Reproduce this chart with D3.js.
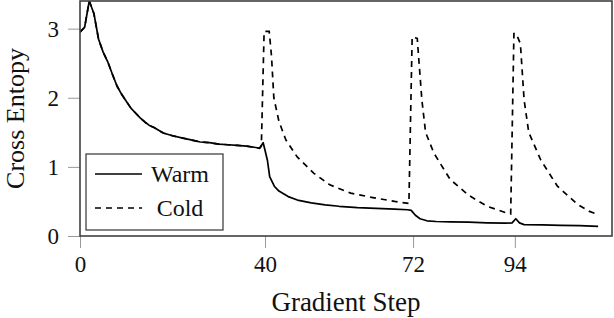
<!DOCTYPE html>
<html>
<head>
<meta charset="utf-8">
<script src="https://cdn.jsdelivr.net/npm/d3@7/dist/d3.min.js"></script>
<style>
  body { margin: 0; background: #fff; }
  text { font-family: "Liberation Serif", "Times New Roman", "DejaVu Serif", serif; fill: #111; }
</style>
</head>
<body>
<script>
// values
const warmSteps = [0, 1, 2, 3, 4, 5, 6, 7, 8, 9, 10, 11, 12, 13, 14, 15, 16, 18, 20, 22, 24, 26, 28, 30, 32, 34, 36, 38, 38.8, 39.6, 40.5, 41, 42, 43, 45, 47, 50, 53, 56, 60, 64, 68, 70.8, 71.6, 72.5, 73.5, 75, 77, 80, 84, 88, 92, 93.4, 94.2, 95, 96, 100, 104, 108, 112];
const warmLoss = [2.95, 3.02, 3.40, 3.22, 2.85, 2.66, 2.52, 2.34, 2.17, 2.05, 1.95, 1.85, 1.78, 1.71, 1.65, 1.60, 1.57, 1.49, 1.45, 1.42, 1.39, 1.36, 1.35, 1.33, 1.32, 1.31, 1.30, 1.28, 1.27, 1.35, 1.10, 0.86, 0.72, 0.65, 0.57, 0.52, 0.48, 0.45, 0.43, 0.41, 0.40, 0.39, 0.38, 0.37, 0.30, 0.25, 0.22, 0.21, 0.205, 0.20, 0.19, 0.185, 0.19, 0.25, 0.19, 0.165, 0.16, 0.155, 0.15, 0.14];

const coldSteps = [0, 1, 2, 3, 4, 5, 6, 7, 8, 9, 10, 11, 12, 13, 14, 15, 16, 18, 20, 22, 24, 26, 28, 30, 32, 34, 36, 38, 38.8, 39.2, 39.8, 40.9, 41.4, 41.9, 43, 44.5, 47, 50.5, 54, 58.5, 63, 68, 71.1, 71.8, 72.9, 73.3, 73.9, 74.7, 76.5, 80, 84, 88, 92.4, 93.1, 93.8, 94.3, 95.2, 96, 97, 99.6, 103.2, 107.5, 110, 112];
const coldLoss = [2.95, 3.02, 3.40, 3.22, 2.85, 2.66, 2.52, 2.34, 2.17, 2.05, 1.95, 1.85, 1.78, 1.71, 1.65, 1.60, 1.57, 1.49, 1.45, 1.42, 1.39, 1.36, 1.35, 1.33, 1.32, 1.31, 1.30, 1.28, 1.27, 1.30, 2.96, 2.96, 2.60, 2.00, 1.66, 1.39, 1.14, 0.91, 0.74, 0.62, 0.56, 0.50, 0.47, 2.88, 2.86, 2.50, 1.97, 1.50, 1.20, 0.82, 0.59, 0.43, 0.33, 0.32, 2.93, 2.93, 2.78, 1.97, 1.50, 1.10, 0.72, 0.46, 0.36, 0.31];

const xTicks = [0, 40, 72, 94];
const yTicks = [0, 1, 2, 3];
const seriesNames = ["Warm", "Cold"];

const serif = '"Liberation Serif", "Times New Roman", "DejaVu Serif", serif';

const W = 614, H = 318;
const margin = { top: 1, right: 2, bottom: 82, left: 80 };
const width = W - margin.left - margin.right;
const height = H - margin.top - margin.bottom;

const svg = d3.select("body").append("svg")
  .attr("width", W)
  .attr("height", H);

const g = svg.append("g")
  .attr("transform", `translate(${margin.left},${margin.top})`);

// scales
const x = d3.scaleLinear().domain([0, 115]).range([0, width]);
const y = d3.scaleLinear().domain([0, 3.4]).range([height, 0]);

// ticks, drawn outside the frame in grey
const xAxis = g.append("g")
  .attr("transform", `translate(0,${height})`)
  .call(d3.axisBottom(x).tickValues(xTicks).tickSize(12).tickPadding(8).tickFormat(d3.format("d")));
const yAxis = g.append("g")
  .call(d3.axisLeft(y).tickValues(yTicks).tickSize(12).tickPadding(9).tickFormat(d3.format("d")));

[xAxis, yAxis].forEach(a => {
  a.attr("font-family", serif).attr("font-size", 23);
  a.select(".domain").remove();
  a.selectAll(".tick line").attr("stroke", "#999").attr("stroke-width", 1);
  a.selectAll(".tick text")
    .style("font-family", serif)
    .style("font-size", "23px")
    .attr("fill", "#111");
});

// lines
g.append("clipPath").attr("id", "clip")
  .append("rect").attr("width", width).attr("height", height);

const line = d3.line()
  .x(d => x(d[0]))
  .y(d => y(d[1]));

const cold = d3.zip(coldSteps, coldLoss);
const warm = d3.zip(warmSteps, warmLoss);

const plot = g.append("g").attr("clip-path", "url(#clip)");
plot.append("path")
  .datum(cold)
  .attr("fill", "none")
  .attr("stroke", "#000")
  .attr("stroke-width", 1.7)
  .attr("stroke-dasharray", "6,5")
  .attr("d", line);
plot.append("path")
  .datum(warm)
  .attr("fill", "none")
  .attr("stroke", "#000")
  .attr("stroke-width", 1.7)
  .attr("stroke-linejoin", "round")
  .attr("d", line);

// frame
g.append("rect")
  .attr("width", width)
  .attr("height", height)
  .attr("fill", "none")
  .attr("stroke", "#404040")
  .attr("stroke-width", 1.6);

// axis titles
svg.append("text")
  .attr("x", margin.left + width / 2)
  .attr("y", 311)
  .attr("text-anchor", "middle")
  .style("font-family", serif)
  .style("font-size", "27px")
  .text("Gradient Step");

svg.append("text")
  .attr("transform", `translate(24,${margin.top + height / 2}) rotate(-90)`)
  .attr("text-anchor", "middle")
  .style("font-family", serif)
  .style("font-size", "26px")
  .text("Cross Entopy");

// legend
const legend = g.append("g").attr("transform", "translate(6,153)");
legend.append("rect")
  .attr("width", 137)
  .attr("height", 76)
  .attr("fill", "#fff")
  .attr("stroke", "#333")
  .attr("stroke-width", 1.2);

seriesNames.forEach((name, i) => {
  const yy = 20 + i * 34;
  legend.append("line")
    .attr("x1", 9).attr("x2", 56)
    .attr("y1", yy).attr("y2", yy)
    .attr("stroke", "#000")
    .attr("stroke-width", 1.7)
    .attr("stroke-dasharray", i === 1 ? "6,5" : null);
  legend.append("text")
    .attr("x", 94)
    .attr("y", yy + 8)
    .attr("text-anchor", "middle")
    .style("font-family", serif)
    .style("font-size", "24px")
    .text(name);
});
</script>
</body>
</html>
